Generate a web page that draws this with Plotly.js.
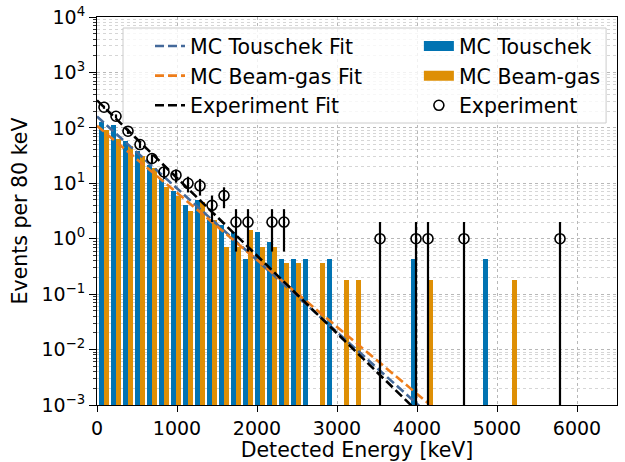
<!DOCTYPE html>
<html><head><meta charset="utf-8">
<script src="https://cdn.plot.ly/plotly-3.0.1.min.js"></script>
<style>html,body{margin:0;padding:0;background:#fff}#chart{width:625px;height:462px}</style>
</head><body><div id="chart"></div>
<script>
// Energy bin positions (keV) - 150 keV spaced bins
const binCenters = [87.5, 237.5, 387.5, 537.5, 687.5, 837.5, 987.5, 1137.5, 1287.5, 1437.5,
  1587.5, 1737.5, 1887.5, 2037.5, 2187.5, 2337.5, 2487.5, 2637.5, 2787.5, 2937.5,
  3087.5, 3237.5, 3387.5, 3537.5, 3687.5, 3837.5, 3987.5, 4137.5, 4287.5, 4437.5,
  4587.5, 4737.5, 4887.5, 5037.5, 5187.5, 5337.5, 5487.5, 5637.5, 5787.5];

const mcTouschek = [128, 111, 58, 39, 21, 12, 7.4, 4.0, 4.9, 2.17,
  1.74, 1.3, 0.43, 1.3, 0.87, 0.43, 0.43, 0.43, null, 0.43,
  null, null, null, null, null, null, 0.43, null, null, null,
  null, null, 0.43, null, null, null, null, null, null];

const mcBeamGas = [90, 62, 48, 31, 18.6, 8.5, 5.9, 3.2, 4.6, 2.2,
  0.72, 0.72, 1.44, 0.72, 0.72, 0.36, 0.36, null, 0.36, null,
  0.18, 0.18, null, null, null, null, null, 0.18, null, null,
  null, null, null, null, 0.18, null, null, null, null];

const experiment = [236, 162, 87, 50, 28, 16, 14, 10, 9, 4,
  6, 2, 2, null, 2, 2, null, null, null, null,
  null, null, null, 1, null, null, 1, 1, null, null,
  1, null, null, null, null, null, null, null, 1];

// Fitted exponentials, given by their end points (keV, events)
const fitEnergy = [0, 5000];
const touschekFit = [160, 5.3e-5];
const beamGasFit = [109, 9.8e-5];
const experimentFit = [314, 3.1e-5];

const xTickVals = [0, 1000, 2000, 3000, 4000, 5000, 6000];
const yTickVals = [1e-3, 1e-2, 1e-1, 1, 10, 100, 1000, 10000];
const yTickText = ['10<sup>\u22123</sup>', '10<sup>\u22122</sup>', '10<sup>\u22121</sup>', '10<sup>0</sup>',
  '10<sup>1</sup>', '10<sup>2</sup>', '10<sup>3</sup>', '10<sup>4</sup>'];

const cBlue = '#0173b2', cOrange = '#de8f05';
const cBlueFit = '#44699a', cOrangeFit = '#ee7d1a';

const expErr = experiment.map(v => v == null ? null : Math.sqrt(v));

const fitLine = (c) => ({color: c, width: 2.6, dash: '9px,4px'});

const traces = [
  {type: 'bar', x: binCenters, y: mcTouschek, offset: -62.5, width: 62.5,
   marker: {color: cBlue, line: {width: 0}}, showlegend: false, name: 'MC Touschek'},
  {type: 'bar', x: binCenters, y: mcBeamGas, offset: 0, width: 62.5,
   marker: {color: cOrange, line: {width: 0}}, showlegend: false, name: 'MC Beam-gas'},
  {type: 'scatter', mode: 'lines', x: fitEnergy, y: touschekFit, line: fitLine(cBlueFit),
   name: 'MC Touschek Fit', legend: 'legend', legendgroup: 'a'},
  {type: 'scatter', mode: 'lines', x: fitEnergy, y: beamGasFit, line: fitLine(cOrangeFit),
   name: 'MC Beam-gas Fit', legend: 'legend', legendgroup: 'b'},
  {type: 'scatter', mode: 'lines', x: fitEnergy, y: experimentFit, line: fitLine('#000000'),
   name: 'Experiment Fit', legend: 'legend', legendgroup: 'c'},
  // legend handles for the bar series
  {type: 'scatter', mode: 'lines', x: [-5000], y: [1], line: {color: cBlue, width: 14},
   name: 'MC Touschek', legend: 'legend2', legendgroup: 'd', hoverinfo: 'skip'},
  {type: 'scatter', mode: 'lines', x: [-5000], y: [1], line: {color: cOrange, width: 14},
   name: 'MC Beam-gas', legend: 'legend2', legendgroup: 'e', hoverinfo: 'skip'},
  {type: 'scatter', mode: 'markers', x: binCenters, y: experiment,
   marker: {symbol: 'circle-open', size: 10, color: '#000', line: {width: 1.6}},
   error_y: {type: 'data', array: expErr, visible: true, width: 0, thickness: 2.2, color: '#000'},
   name: 'Experiment', legend: 'legend2', legendgroup: 'f'}
];

const legendBase = {xanchor: 'left', yanchor: 'top', y: 0.9764, bgcolor: 'rgba(0,0,0,0)',
  borderwidth: 0, font: {size: 20.5, color: '#000'}, tracegroupgap: 0, traceorder: 'grouped',
  orientation: 'v'};

const layout = {
  width: 625, height: 462,
  margin: {l: 97, r: 8, t: 17, b: 57, pad: 0},
  paper_bgcolor: '#fff', plot_bgcolor: '#fff',
  font: {family: 'DejaVu Sans', size: 19, color: '#000'},
  barmode: 'overlay', bargap: 0,
  showlegend: true,
  legend: Object.assign({}, legendBase, {x: 0.1019}),
  legend2: Object.assign({}, legendBase, {x: 0.619}),
  xaxis: {range: [0, 6500], tickmode: 'array', tickvals: xTickVals,
    ticks: 'outside', ticklen: 6, tickwidth: 1, tickcolor: '#000',
    showline: true, linecolor: '#000', linewidth: 1, mirror: true,
    showgrid: true, gridcolor: '#b8b8b8', griddash: 'dot', gridwidth: 1, zeroline: false,
    tickfont: {size: 19}, title: {text: 'Detected Energy [keV]', font: {size: 20.5}, standoff: 4}},
  yaxis: {type: 'log', range: [-3, 4], tickmode: 'array', tickvals: yTickVals, ticktext: yTickText,
    ticks: 'outside', ticklen: 7, tickwidth: 1, tickcolor: '#000',
    showline: true, linecolor: '#000', linewidth: 1, mirror: true,
    showgrid: true, gridcolor: '#b8b8b8', griddash: 'dot', gridwidth: 1, zeroline: false,
    minor: {dtick: 'D1', ticks: 'outside', ticklen: 3.5, tickcolor: '#000', tickwidth: 0.8,
      showgrid: true, gridcolor: '#d6d6d6', griddash: 'dot', gridwidth: 1},
    tickfont: {size: 19}, title: {text: 'Events per 80 keV', font: {size: 20.5}, standoff: 8}},
  shapes: [{type: 'rect', xref: 'paper', yref: 'paper', x0: 0.05, x1: 0.979, y0: 0.7268, y1: 0.9716,
    fillcolor: 'rgba(255,255,255,0.8)', line: {color: '#cccccc', width: 1}, layer: 'above'}]
};

Plotly.newPlot('chart', traces, layout, {displayModeBar: false, staticPlot: true});
</script>
</body></html>
